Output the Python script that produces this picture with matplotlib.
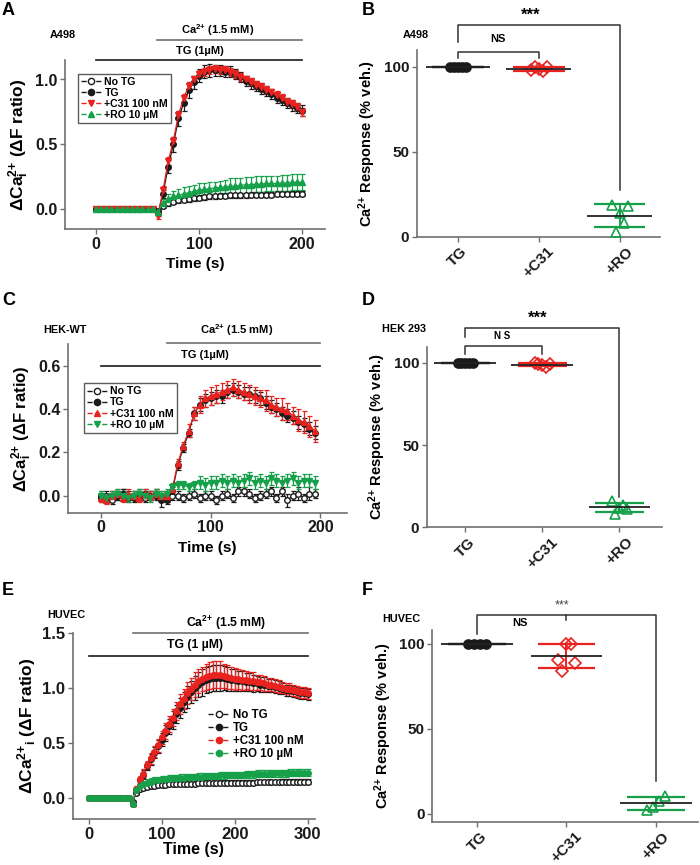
import numpy as np
import matplotlib
matplotlib.use("Agg")
import matplotlib.pyplot as plt
from matplotlib.lines import Line2D

plt.rcParams['font.family'] = ['Liberation Sans', 'DejaVu Sans']
plt.rcParams['font.weight'] = 'bold'
plt.rcParams['axes.labelweight'] = 'bold'
plt.rcParams['mathtext.default'] = 'regular'

RED = '#e8231f'
GREEN = '#16a04a'
BLACK = '#1a1a1a'
GRAY = '#707070'

# ---- panel A: A498 traces (t = 0..200 s, every 5 s)
a_time = list(range(0, 201, 5))
a_notg = [0.0, 0.0, 0.0, 0.0, 0.0, 0.0, 0.0, 0.0, 0.0, 0.0, 0.0, 0.0, -0.01,
          0.03, 0.05, 0.06, 0.07, 0.075, 0.08, 0.085, 0.09, 0.095, 0.10, 0.10, 0.105, 0.105, 0.11,
          0.11, 0.11, 0.11, 0.115, 0.115, 0.115, 0.115, 0.115, 0.12, 0.12, 0.12, 0.12, 0.12, 0.12]
a_notg_err = [0.01, 0.01, 0.01, 0.01, 0.01, 0.01, 0.01, 0.01, 0.01, 0.01, 0.01, 0.01, 0.01,
              0.015, 0.02, 0.02, 0.02, 0.02, 0.02, 0.02, 0.02, 0.02, 0.02, 0.02, 0.02, 0.02, 0.02,
              0.02, 0.02, 0.02, 0.02, 0.02, 0.02, 0.02, 0.02, 0.02, 0.02, 0.02, 0.02, 0.02, 0.02]
a_tg = [0.0, 0.0, 0.0, 0.0, 0.0, 0.0, 0.0, 0.0, 0.0, 0.0, 0.0, 0.0, -0.03,
        0.12, 0.33, 0.50, 0.70, 0.82, 0.92, 0.98, 1.03, 1.06, 1.07, 1.07, 1.07, 1.06, 1.06,
        1.04, 1.02, 0.99, 0.97, 0.95, 0.93, 0.91, 0.89, 0.86, 0.84, 0.82, 0.80, 0.78, 0.76]
a_tg_err = [0.01, 0.01, 0.01, 0.01, 0.01, 0.01, 0.01, 0.01, 0.01, 0.01, 0.01, 0.01, 0.02,
            0.03, 0.05, 0.06, 0.06, 0.06, 0.06, 0.05, 0.05, 0.05, 0.05, 0.04, 0.04, 0.04, 0.04,
            0.04, 0.04, 0.04, 0.04, 0.04, 0.04, 0.04, 0.04, 0.04, 0.04, 0.04, 0.04, 0.04, 0.04]
a_c31 = [0.0, 0.0, 0.0, 0.0, 0.0, 0.0, 0.0, 0.0, 0.0, 0.0, 0.0, 0.0, -0.05,
         0.15, 0.37, 0.53, 0.73, 0.86, 0.95, 1.00, 1.04, 1.06, 1.07, 1.08, 1.07, 1.07, 1.06,
         1.04, 1.02, 1.00, 0.98, 0.96, 0.94, 0.92, 0.90, 0.88, 0.86, 0.83, 0.81, 0.79, 0.75]
a_c31_err = [0.01, 0.01, 0.01, 0.01, 0.01, 0.01, 0.01, 0.01, 0.01, 0.01, 0.01, 0.01, 0.02,
             0.03, 0.03, 0.03, 0.03, 0.03, 0.03, 0.03, 0.03, 0.03, 0.03, 0.03, 0.03, 0.03, 0.03,
             0.03, 0.03, 0.03, 0.03, 0.03, 0.03, 0.03, 0.03, 0.03, 0.03, 0.03, 0.03, 0.03, 0.03]
a_ro = [0.0, 0.0, 0.0, 0.0, 0.0, 0.0, 0.0, 0.0, 0.0, 0.0, 0.0, 0.0, -0.02,
        0.05, 0.08, 0.10, 0.11, 0.12, 0.13, 0.14, 0.15, 0.155, 0.16, 0.165, 0.17, 0.175, 0.18,
        0.18, 0.185, 0.19, 0.19, 0.195, 0.195, 0.20, 0.20, 0.20, 0.205, 0.205, 0.21, 0.21, 0.21]
a_ro_err = [0.01, 0.01, 0.01, 0.01, 0.01, 0.01, 0.01, 0.01, 0.01, 0.01, 0.01, 0.01, 0.02,
            0.03, 0.04, 0.04, 0.05, 0.05, 0.05, 0.05, 0.05, 0.05, 0.05, 0.05, 0.05, 0.05, 0.06,
            0.06, 0.06, 0.06, 0.06, 0.06, 0.06, 0.06, 0.06, 0.06, 0.06, 0.06, 0.06, 0.06, 0.06]

# ---- panel C: HEK-WT traces (t = 0..195 s, every 5 s)
c_time = list(range(0, 196, 5))
c_notg = [-0.01, 0.0, -0.02, 0.0, 0.01, -0.01, 0.0, 0.01, -0.01, 0.0, 0.01, -0.01, -0.01,
          0.0, 0.0, -0.01, 0.0, 0.01, -0.01, 0.0, 0.0, -0.02, 0.0, 0.01, -0.01, 0.02, 0.02,
          0.01, -0.01, 0.0, 0.01, 0.02, -0.01, 0.02, -0.02, 0.0, 0.01, -0.01, 0.01, 0.01]
c_notg_err = [0.02, 0.02, 0.02, 0.02, 0.02, 0.02, 0.02, 0.02, 0.02, 0.02, 0.02, 0.02, 0.02,
              0.02, 0.02, 0.02, 0.02, 0.02, 0.02, 0.02, 0.02, 0.02, 0.02, 0.02, 0.02, 0.02, 0.02,
              0.02, 0.02, 0.02, 0.02, 0.02, 0.02, 0.02, 0.03, 0.02, 0.03, 0.02, 0.03, 0.02]
c_tg = [0.0, -0.01, 0.0, 0.0, 0.01, 0.0, -0.01, 0.0, 0.01, 0.0, 0.0, -0.02, -0.02,
        0.02, 0.14, 0.22, 0.29, 0.38, 0.42, 0.44, 0.45, 0.46, 0.46, 0.48, 0.49, 0.48, 0.47,
        0.47, 0.46, 0.45, 0.43, 0.41, 0.40, 0.38, 0.37, 0.36, 0.34, 0.33, 0.31, 0.29]
c_tg_err = [0.02, 0.02, 0.02, 0.02, 0.02, 0.02, 0.02, 0.02, 0.02, 0.02, 0.02, 0.03, 0.02,
            0.02, 0.02, 0.02, 0.02, 0.03, 0.03, 0.03, 0.03, 0.03, 0.03, 0.03, 0.03, 0.03, 0.03,
            0.03, 0.03, 0.03, 0.03, 0.03, 0.03, 0.03, 0.03, 0.03, 0.03, 0.03, 0.03, 0.03]
c_c31 = [-0.01, -0.02, 0.0, 0.01, -0.01, 0.01, 0.0, -0.01, 0.01, 0.0, 0.01, 0.0, 0.0,
         0.03, 0.15, 0.23, 0.30, 0.38, 0.42, 0.45, 0.46, 0.47, 0.48, 0.49, 0.50, 0.49, 0.48,
         0.47, 0.46, 0.45, 0.44, 0.42, 0.41, 0.40, 0.39, 0.37, 0.35, 0.34, 0.32, 0.30]
c_c31_err = [0.02, 0.02, 0.02, 0.02, 0.02, 0.02, 0.02, 0.02, 0.02, 0.02, 0.02, 0.02, 0.02,
             0.02, 0.02, 0.02, 0.03, 0.03, 0.04, 0.04, 0.04, 0.04, 0.04, 0.04, 0.04, 0.04, 0.04,
             0.04, 0.04, 0.04, 0.05, 0.04, 0.04, 0.05, 0.04, 0.04, 0.05, 0.05, 0.05, 0.05]
c_ro = [0.0, -0.01, 0.0, 0.01, 0.0, -0.01, 0.0, 0.01, 0.0, -0.01, 0.01, 0.0, 0.01,
        0.04, 0.05, 0.05, 0.04, 0.05, 0.06, 0.05, 0.06, 0.06, 0.07, 0.06, 0.07, 0.06, 0.07,
        0.08, 0.06, 0.07, 0.06, 0.08, 0.07, 0.06, 0.07, 0.08, 0.06, 0.07, 0.07, 0.06]
c_ro_err = [0.02, 0.02, 0.02, 0.02, 0.02, 0.02, 0.02, 0.02, 0.02, 0.02, 0.02, 0.02, 0.02,
            0.02, 0.02, 0.02, 0.02, 0.02, 0.03, 0.03, 0.03, 0.03, 0.03, 0.03, 0.03, 0.03, 0.03,
            0.03, 0.03, 0.03, 0.03, 0.03, 0.03, 0.03, 0.03, 0.03, 0.03, 0.03, 0.03, 0.03]

# ---- panel E: HUVEC traces (t = 0..300 s, every 5 s)
e_time = list(range(0, 301, 5))
e_notg = [0.0, 0.0, 0.0, 0.0, 0.0, 0.0, 0.0, 0.0, 0.0, 0.0, 0.0, 0.0, -0.04,
          0.05, 0.08, 0.09, 0.10, 0.11, 0.11, 0.12, 0.12, 0.12, 0.125, 0.125, 0.13,
          0.13, 0.13, 0.13, 0.13, 0.13, 0.135, 0.135, 0.135, 0.135, 0.135, 0.135,
          0.14, 0.14, 0.14, 0.14, 0.14, 0.14, 0.14, 0.14, 0.14, 0.14,
          0.145, 0.145, 0.145, 0.145, 0.145, 0.145, 0.145,
          0.15, 0.15, 0.15, 0.15, 0.15, 0.15, 0.15, 0.15]
e_notg_err = [0.01, 0.01, 0.01, 0.01, 0.01, 0.01, 0.01, 0.01, 0.01, 0.01, 0.01, 0.01, 0.01,
              0.02, 0.02, 0.02, 0.02, 0.02, 0.02, 0.02, 0.02, 0.02, 0.02, 0.02, 0.02,
              0.02, 0.02, 0.02, 0.02, 0.02, 0.02, 0.02, 0.02, 0.02, 0.02, 0.02,
              0.02, 0.02, 0.02, 0.02, 0.02, 0.02, 0.02, 0.02, 0.02, 0.02,
              0.02, 0.02, 0.02, 0.02, 0.02, 0.02, 0.02,
              0.02, 0.02, 0.02, 0.02, 0.02, 0.02, 0.02, 0.02]
e_tg = [0.0, 0.0, 0.0, 0.0, 0.0, 0.0, 0.0, 0.0, 0.0, 0.0, 0.0, 0.0, -0.05,
        0.07, 0.16, 0.21, 0.29, 0.35, 0.41, 0.47, 0.53, 0.59, 0.65, 0.71, 0.76,
        0.82, 0.87, 0.92, 0.96, 1.00, 1.03, 1.05, 1.07, 1.08, 1.09, 1.09, 1.09,
        1.09, 1.08, 1.07, 1.07, 1.06, 1.06, 1.05, 1.05, 1.04, 1.04, 1.03, 1.03,
        1.02, 1.02, 1.01, 1.00, 0.99, 0.98, 0.98, 0.97, 0.96, 0.95, 0.95, 0.94]
e_tg_err = [0.01, 0.01, 0.01, 0.01, 0.01, 0.01, 0.01, 0.01, 0.01, 0.01, 0.01, 0.01, 0.02,
            0.03, 0.03, 0.04, 0.04, 0.05, 0.05, 0.06, 0.06, 0.07, 0.07, 0.08, 0.08,
            0.09, 0.09, 0.10, 0.10, 0.11, 0.11, 0.12, 0.12, 0.12, 0.12, 0.12, 0.12,
            0.11, 0.11, 0.10, 0.10, 0.09, 0.09, 0.08, 0.08, 0.08, 0.07, 0.07, 0.07,
            0.06, 0.06, 0.06, 0.06, 0.05, 0.05, 0.05, 0.05, 0.05, 0.05, 0.05, 0.05]
e_c31 = [0.0, 0.0, 0.0, 0.0, 0.0, 0.0, 0.0, 0.0, 0.0, 0.0, 0.0, 0.0, -0.05,
         0.08, 0.17, 0.22, 0.30, 0.36, 0.42, 0.48, 0.55, 0.61, 0.67, 0.73, 0.79,
         0.85, 0.90, 0.95, 0.99, 1.03, 1.06, 1.08, 1.10, 1.11, 1.12, 1.12, 1.12,
         1.11, 1.10, 1.09, 1.08, 1.08, 1.07, 1.07, 1.06, 1.06, 1.05, 1.05, 1.04,
         1.03, 1.03, 1.02, 1.01, 1.00, 0.99, 0.99, 0.98, 0.97, 0.96, 0.96, 0.95]
e_c31_err = [0.01, 0.01, 0.01, 0.01, 0.01, 0.01, 0.01, 0.01, 0.01, 0.01, 0.01, 0.01, 0.02,
             0.03, 0.03, 0.04, 0.04, 0.05, 0.05, 0.06, 0.06, 0.07, 0.07, 0.08, 0.08,
             0.09, 0.09, 0.10, 0.10, 0.11, 0.11, 0.11, 0.12, 0.12, 0.12, 0.12, 0.12,
             0.11, 0.11, 0.10, 0.10, 0.09, 0.09, 0.08, 0.08, 0.08, 0.07, 0.07, 0.07,
             0.06, 0.06, 0.06, 0.06, 0.05, 0.05, 0.05, 0.05, 0.05, 0.05, 0.05, 0.05]
e_ro = [0.0, 0.0, 0.0, 0.0, 0.0, 0.0, 0.0, 0.0, 0.0, 0.0, 0.0, 0.0, -0.05,
        0.07, 0.11, 0.13, 0.14, 0.15, 0.16, 0.165, 0.17, 0.17, 0.175, 0.18, 0.18,
        0.185, 0.185, 0.19, 0.19, 0.19, 0.195, 0.195, 0.20, 0.20, 0.20, 0.20, 0.205,
        0.205, 0.21, 0.21, 0.21, 0.21, 0.21, 0.215, 0.215, 0.215, 0.22, 0.22, 0.22,
        0.22, 0.22, 0.225, 0.225, 0.225, 0.225, 0.23, 0.23, 0.23, 0.23, 0.23, 0.23]
e_ro_err = [0.01, 0.01, 0.01, 0.01, 0.01, 0.01, 0.01, 0.01, 0.01, 0.01, 0.01, 0.01, 0.02,
            0.02, 0.02, 0.02, 0.03, 0.03, 0.03, 0.03, 0.03, 0.03, 0.03, 0.03, 0.03,
            0.03, 0.03, 0.03, 0.03, 0.03, 0.03, 0.03, 0.03, 0.03, 0.03, 0.03, 0.03,
            0.03, 0.03, 0.03, 0.03, 0.03, 0.03, 0.03, 0.03, 0.03, 0.03, 0.03, 0.03,
            0.03, 0.03, 0.03, 0.03, 0.03, 0.03, 0.03, 0.03, 0.03, 0.03, 0.03, 0.03]

# ---- dot plots (% of vehicle response), points listed left to right
groups = ['TG', '+C31', '+RO']
b_vals = [[100, 100, 100, 100, 100], [98.5, 100, 99, 97.5, 100], [19, 3, 14, 8, 18]]
d_vals = [[100, 100, 100, 100, 100], [100, 99.5, 98.5, 97.5, 99], [16, 8, 12, 13.5, 11]]
f_vals = [[100, 100, 100, 100], [90.5, 84.2, 100, 99.5, 88.8], [2.5, 4, 7.5, 10.5]]

CA = 'Ca$^{2{+}}$'

fig = plt.figure(figsize=(7, 8.65), dpi=100)


def px_axes(l, t, r, b):
    # axes from pixel box of the 700x865 figure
    return fig.add_axes([l / 700, 1 - b / 865, (r - l) / 700, (b - t) / 865])


def style(ax, size=11.5):
    for s in ['top', 'right']:
        ax.spines[s].set_visible(False)
    for s in ['left', 'bottom']:
        ax.spines[s].set_color(GRAY)
        ax.spines[s].set_linewidth(1.2)
    ax.tick_params(direction='out', length=3.5, width=1, color=GRAY,
                   labelsize=size, labelcolor=BLACK, pad=2)
    for lab in ax.get_xticklabels() + ax.get_yticklabels():
        lab.set_fontweight('bold')


def trace(ax, t, y, e, color, marker, face, ms=4):
    ax.errorbar(t, y, yerr=e, color=color, marker=marker, mfc=face, mec=color,
                ms=ms, lw=0.9, elinewidth=0.9, capsize=1.8, capthick=0.9)


def trace_legend(ax, markers, anchor, frame=True, fs=7.5):
    labels = ['No TG', 'TG', '+C31 100 nM', '+RO 10 µM']
    colors = [BLACK, BLACK, RED, GREEN]
    faces = ['white', BLACK, RED, GREEN]
    hs = [Line2D([], [], color=c, ls='--', lw=1, marker=m, mfc=f, mec=c, ms=4.5)
          for c, m, f in zip(colors, markers, faces)]
    leg = ax.legend(hs, labels, loc='upper left', bbox_to_anchor=anchor, frameon=frame,
                    fancybox=False, handlelength=1.9, handletextpad=0.3, labelspacing=0.1,
                    borderpad=0.3, prop={'size': fs, 'weight': 'bold'})
    if frame:
        leg.get_frame().set_edgecolor('#333333')
        leg.get_frame().set_linewidth(1)


def bars(ax, ca, tg, ca_text, tg_text, fs):
    ax.plot(ca[:2], [ca[2], ca[2]], color=GRAY, lw=1.2, clip_on=False)
    ax.plot(tg[:2], [tg[2], tg[2]], color=BLACK, lw=1.2, clip_on=False)
    ax.text(ca_text[0], ca_text[1], CA + ' (1.5 mM)', ha='center', va='center', fontsize=fs)
    ax.text(tg_text[0], tg_text[1], 'TG (1µM)' if fs < 8.5 else 'TG (1 µM)',
            ha='center', va='center', fontsize=fs)


def dots(ax, vals, markers, colors, faces):
    for i, v in enumerate(vals):
        off = np.linspace(-0.1, 0.1, len(v))
        m = np.mean(v)
        s = np.std(v, ddof=1)
        ax.hlines([m - s, m + s], i - 0.32, i + 0.32, color=colors[i], lw=1.6, zorder=2)
        ax.vlines(i, m - s, m + s, color=colors[i], lw=1.4, zorder=2)
        ax.plot(i + off, v, ls='none', marker=markers[i], ms=6.5, mfc=faces[i],
                mec=colors[i], mew=1.2, zorder=3)
        ax.hlines(m, i - 0.4, i + 0.4, color='#222222', lw=1.3, zorder=4)
    ax.set_xticks(range(3))
    ax.set_xticklabels(groups, rotation=45, ha='center')
    ax.set_ylabel(CA + ' Response (% veh.)', fontsize=10.5)
    ax.set_yticks([0, 50, 100])


def bracket(ax, xs, ys, **kw):
    ax.plot(xs, ys, color='#333333', lw=1.1, clip_on=False, **kw)


# ---------------- A
ax = px_axes(65, 60, 325, 229)
trace(ax, a_time, a_notg, a_notg_err, BLACK, 'o', 'white')
trace(ax, a_time, a_tg, a_tg_err, BLACK, 'o', BLACK)
trace(ax, a_time, a_c31, a_c31_err, RED, 'v', RED)
trace(ax, a_time, a_ro, a_ro_err, GREEN, '^', GREEN)
ax.set_xlim(-30, 222)
ax.set_ylim(-0.15, 1.15)
ax.set_xticks([0, 100, 200])
ax.set_yticks([0, 0.5, 1.0])
ax.set_yticklabels(['0.0', '0.5', '1.0'])
ax.set_xlabel('Time (s)', fontsize=11)
ax.set_ylabel('ΔCa$_i^{2{+}}$ (ΔF ratio)', fontsize=12.5, labelpad=3)
bars(ax, (59, 200, 1.305), (0, 200, 1.153), (118, 1.38), (101, 1.22), 8)
trace_legend(ax, ['o', 'o', 'v', '^'], (0.03, 0.95), fs=7.6)
style(ax)

# ---------------- B
ax = px_axes(416.7, 50, 660, 237)
dots(ax, b_vals, ['o', 'D', '^'], [BLACK, RED, GREEN], [BLACK, 'none', 'none'])
ax.set_xlim(-0.51, 2.5)
ax.set_ylim(0, 110)
bracket(ax, [0, 0, 1, 1], [105, 108.8, 108.8, 105.5])
bracket(ax, [0, 0, 2, 2], [114.6, 124.8, 124.8, 27.7])
ax.text(0.5, 116.6, 'NS', ha='center', va='center', fontsize=8)
ax.text(0.9, 130.5, '***', ha='center', va='center', fontsize=12)
style(ax, 11)

# ---------------- C
ax = px_axes(68, 344.3, 346.7, 512.7)
trace(ax, c_time, c_notg, c_notg_err, BLACK, 'o', 'white')
trace(ax, c_time, c_tg, c_tg_err, BLACK, 'o', BLACK)
trace(ax, c_time, c_c31, c_c31_err, RED, '^', RED)
trace(ax, c_time, c_ro, c_ro_err, GREEN, 'v', GREEN)
ax.set_xlim(-30, 224)
ax.set_ylim(-0.078, 0.699)
ax.set_xticks([0, 100, 200])
ax.set_yticks([0, 0.2, 0.4, 0.6])
ax.set_yticklabels(['0.0', '0.2', '0.4', '0.6'])
ax.set_xlabel('Time (s)', fontsize=11)
ax.set_ylabel('ΔCa$_i^{2{+}}$ (ΔF ratio)', fontsize=12, labelpad=3)
bars(ax, (60.4, 200, 0.706), (0, 200, 0.6), (124, 0.765), (95, 0.65), 8)
trace_legend(ax, ['o', 'o', '^', 'v'], (0.037, 0.80), fs=7.6)
style(ax)

# ---------------- D
ax = px_axes(426.7, 347.3, 661.7, 527.3)
dots(ax, d_vals, ['o', 'D', '^'], [BLACK, RED, GREEN], [BLACK, 'none', 'none'])
ax.set_xlim(-0.5, 2.55)
ax.set_ylim(0, 109.4)
bracket(ax, [0, 0, 1, 1], [105.3, 110.1, 110.1, 105.3])
bracket(ax, [0, 0, 2, 2], [115.8, 121.3, 121.3, 18.6])
ax.text(0.48, 116.2, 'N S', ha='center', va='center', fontsize=7)
ax.text(0.94, 127, '***', ha='center', va='center', fontsize=12)
style(ax, 11)

# ---------------- E
ax = px_axes(72.7, 632.7, 315, 819)
trace(ax, e_time, e_notg, e_notg_err, BLACK, 'o', 'white')
trace(ax, e_time, e_tg, e_tg_err, BLACK, 'o', BLACK)
trace(ax, e_time, e_c31, e_c31_err, RED, 'o', RED)
trace(ax, e_time, e_ro, e_ro_err, GREEN, 'o', GREEN)
ax.set_xlim(-22, 310)
ax.set_ylim(-0.19, 1.5)
ax.set_xticks([0, 100, 200, 300])
ax.set_yticks([0, 0.5, 1.0, 1.5])
ax.set_yticklabels(['0.0', '0.5', '1.0', '1.5'])
ax.set_xlabel('Time (s)', fontsize=11.5, labelpad=0)
ax.set_ylabel('ΔCa$^{2{+}}$$_i$ (ΔF ratio)', fontsize=12.5, labelpad=3)
bars(ax, (60, 300, 1.5), (0, 300, 1.29), (188, 1.585), (145, 1.39), 8.8)
trace_legend(ax, ['o', 'o', 'o', 'o'], (0.52, 0.64), frame=False, fs=8.3)
style(ax, 12)

# ---------------- F
ax = px_axes(432.3, 630, 698, 821.7)
dots(ax, f_vals, ['o', 'D', '^'], [BLACK, RED, GREEN], [BLACK, 'none', 'none'])
ax.set_xlim(-0.5, 2.47)
ax.set_ylim(-4.6, 108)
bracket(ax, [0, 0, 2, 2], [105.9, 116.8, 116.8, 19.1])
bracket(ax, [1, 1], [116.8, 113.8])
ax.text(0.48, 112.2, 'NS', ha='center', va='center', fontsize=8)
ax.text(0.95, 122.7, '***', ha='center', va='center', fontsize=9, fontweight='normal',
        color='#444444')
style(ax, 11)

# panel letters and cell-line names
for letter, x, y in [('A', 2, 2), ('B', 362, 2), ('C', 2, 292), ('D', 362, 292),
                     ('E', 2, 582), ('F', 362, 582)]:
    fig.text(x / 700, 1 - y / 865, letter, fontsize=13, va='top', ha='left')
for name, x, y in [('A498', 50, 35), ('A498', 403, 35), ('HEK-WT', 43, 330),
                   ('HEK 293', 382, 329), ('HUVEC', 47, 615), ('HUVEC', 382, 619)]:
    fig.text(x / 700, 1 - y / 865, name, fontsize=7.8, va='center', ha='left')

fig.savefig('out.png', dpi=100)
